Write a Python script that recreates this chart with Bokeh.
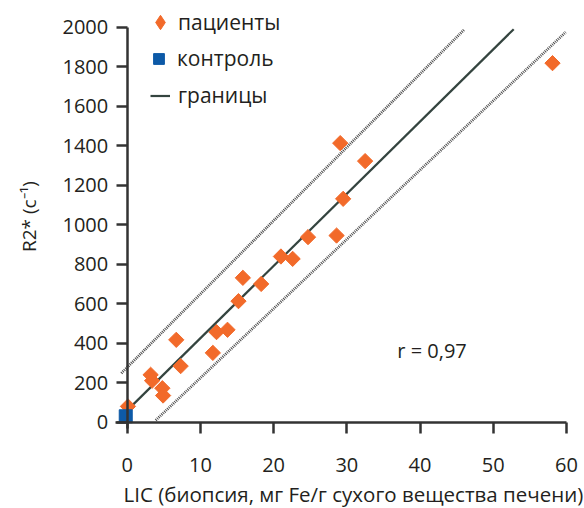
import numpy as np
from bokeh.plotting import figure
from bokeh.models import Range1d, Legend, LegendItem, Label, LinearAxis, FixedTicker
from bokeh.embed import file_html
from bokeh.resources import INLINE

# ---- data ----
patients_lic = [0.1, 3.2, 3.4, 4.8, 4.9, 6.7, 7.3, 11.7, 12.2, 13.7, 15.2, 15.8,
                18.3, 21.0, 22.6, 24.7, 28.6, 29.5, 29.1, 32.5, 58.1]
patients_r2 = [80, 240, 210, 172, 135, 417, 284, 351, 456, 468, 613, 731,
               700, 839, 827, 937, 945, 1131, 1413, 1322, 1818]
control_lic = [-0.2]
control_r2 = [30]
fit_lic = [0.0, 52.8]
fit_r2 = [60, 1990]
upper_lic = [-0.8, 46.1]
upper_r2 = [248, 1990]
lower_lic = [3.9, 59.9]
lower_r2 = [10, 1975]
x_ticks = [0, 10, 20, 30, 40, 50, 60]
y_ticks = [0, 200, 400, 600, 800, 1000, 1200, 1400, 1600, 1800, 2000]
legend_labels = ["пациенты", "контроль", "границы"]
x_title = "LIC (биопсия, мг Fe/г сухого вещества печени)"
y_title = "R2* (c⁻¹)"
r_text = "r = 0,97"

FONT = "Open Sans"
TXT = "#231f20"
ORANGE = "#f26a2a"
BLUE = "#0d5aa7"
AX = "#333333"

# the frame covers the whole canvas; axes are drawn at x = 0 and y = 0
p = figure(width=584, height=508, output_backend="svg", toolbar_location=None,
           x_range=Range1d(-17.31, 62.47), y_range=Range1d(-437.0, 2135.2),
           x_axis_location=None, y_axis_location=None, min_border=0)
p.outline_line_color = None
p.xgrid.visible = False
p.ygrid.visible = False

lu = p.line(upper_lic, upper_r2, line_color="#4a4a4a", line_width=2.8, line_dash="1 1")
ll = p.line(lower_lic, lower_r2, line_color="#4a4a4a", line_width=2.8, line_dash="1 1")
lf = p.line(fit_lic, fit_r2, line_color="#34443f", line_width=2.2)
# small diamonds hidden under the rotated squares; used for the legend symbol
sp_leg = p.scatter(patients_lic, patients_r2, marker="diamond", size=6,
                   fill_color=ORANGE, line_color=ORANGE)
sp = p.scatter(patients_lic, patients_r2, marker="square", size=10.8, angle=np.pi / 4,
               fill_color=ORANGE, line_color=ORANGE)
sc = p.scatter(control_lic, control_r2, marker="square", size=13,
               fill_color=BLUE, line_color=BLUE)


def style_axis(ax):
    ax.axis_line_width = 2.5
    ax.axis_line_color = AX
    ax.major_tick_line_width = 2.5
    ax.major_tick_line_color = AX
    ax.major_tick_in = 0
    ax.major_tick_out = 11
    ax.minor_tick_line_color = None
    ax.major_label_text_font = FONT
    ax.major_label_text_font_size = "20px"
    ax.major_label_text_color = TXT


xa = LinearAxis(ticker=FixedTicker(ticks=x_ticks), fixed_location=0, bounds=(-1.6, 60),
                major_label_standoff=25)
style_axis(xa)
p.add_layout(xa, "below")

ya = LinearAxis(ticker=FixedTicker(ticks=y_ticks), fixed_location=0, bounds=(-30, 2000),
                major_label_standoff=8)
style_axis(ya)
p.add_layout(ya, "left")

# axis titles
p.add_layout(Label(x=30.9, y=-362, text=x_title, text_font=FONT, text_font_size="20.5px",
                   text_color=TXT, text_baseline="middle", text_align="center"))
p.add_layout(Label(x=-13.35, y=1041, text=y_title, text_font=FONT, text_font_size="19px",
                   text_color=TXT, text_baseline="middle", text_align="center",
                   angle=np.pi / 2))

common = dict(orientation="vertical", padding=0, margin=0, border_line_color=None,
              background_fill_alpha=0, label_text_font=FONT, label_text_font_size="21px",
              label_text_color=TXT, label_height=20, spacing=0)
leg_a = Legend(items=[LegendItem(label=legend_labels[0], renderers=[sp_leg])],
               location=(142, 468), glyph_width=36, glyph_height=36, label_standoff=0, **common)
leg_b = Legend(items=[LegendItem(label=legend_labels[1], renderers=[sc])],
               location=(145, 436), glyph_width=27, glyph_height=27, label_standoff=5, **common)
leg_c = Legend(items=[LegendItem(label=legend_labels[2], renderers=[lf])],
               location=(150, 399), glyph_width=20, glyph_height=27, label_standoff=8, **common)
for lg in (leg_a, leg_b, leg_c):
    p.add_layout(lg)

p.add_layout(Label(x=36.9, y=363, text=r_text, text_font=FONT, text_font_size="20px",
                   text_color=TXT, text_baseline="middle", text_align="left"))

open("out.html", "w").write(file_html(p, INLINE))
